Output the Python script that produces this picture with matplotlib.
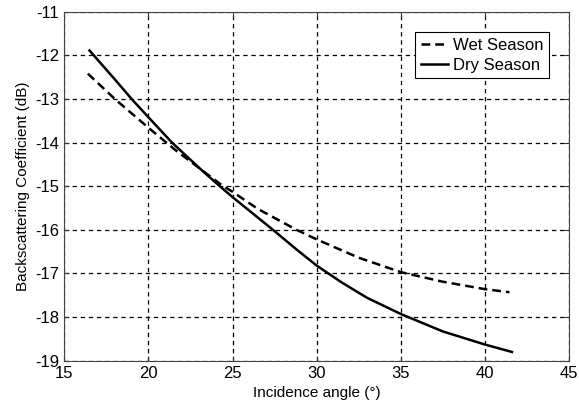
import matplotlib
matplotlib.use("Agg")
import matplotlib.pyplot as plt

plt.rcParams['font.family'] = ['Liberation Sans', 'DejaVu Sans']
plt.rcParams['axes.unicode_minus'] = False

# values
wet_angle = [16.4, 18, 20, 21.6, 23.1, 24.3, 25, 26.5, 28.8, 30, 32.5, 35, 37.5, 40, 41.45]
wet = [-12.42, -13.0, -13.66, -14.17, -14.61, -14.96, -15.13, -15.52, -16.0, -16.22,
       -16.64, -16.97, -17.19, -17.36, -17.43]
dry_angle = [16.5, 18, 19, 20, 21.4, 23.1, 24.3, 25, 25.8, 27.4, 28.8, 30, 31.5, 33, 35, 37.5, 40, 41.6]
dry = [-11.89, -12.55, -13.0, -13.42, -14.0, -14.61, -15.02, -15.25, -15.5, -16.0, -16.45, -16.82,
       -17.21, -17.56, -17.93, -18.33, -18.63, -18.8]

fig = plt.figure(figsize=(5.79, 4.17), dpi=100)
ax = fig.add_axes([0.111, 0.135, 0.872, 0.837])

ax.plot(wet_angle, wet, color='black', linestyle=(0, (3.5, 2)), lw=1.8, label='Wet Season')
ax.plot(dry_angle, dry, color='black', linestyle='-', lw=1.8, label='Dry Season')

ax.set_xlim(15, 45)
ax.set_ylim(-19, -11)
ax.set_xticks(range(15, 46, 5))
ax.set_yticks(range(-19, -10))
ax.grid(True, color='black', linestyle=(0, (3.5, 3)), linewidth=0.9)
ax.tick_params(direction='in', labelsize=12, top=True, right=True, color='#333333')
for s in ax.spines.values():
    s.set_color('#444444')
ax.set_xlabel('Incidence angle (°)', fontsize=11)
ax.set_ylabel('Backscattering Coefficient (dB)', fontsize=11)

leg = ax.legend(loc='upper right', fontsize=12, fancybox=False, framealpha=1,
                edgecolor='black', handlelength=1.6, borderpad=0.35,
                labelspacing=0.3, handletextpad=0.3, borderaxespad=1.2)
leg.get_frame().set_linewidth(0.8)

fig.savefig('out.png', dpi=100)
